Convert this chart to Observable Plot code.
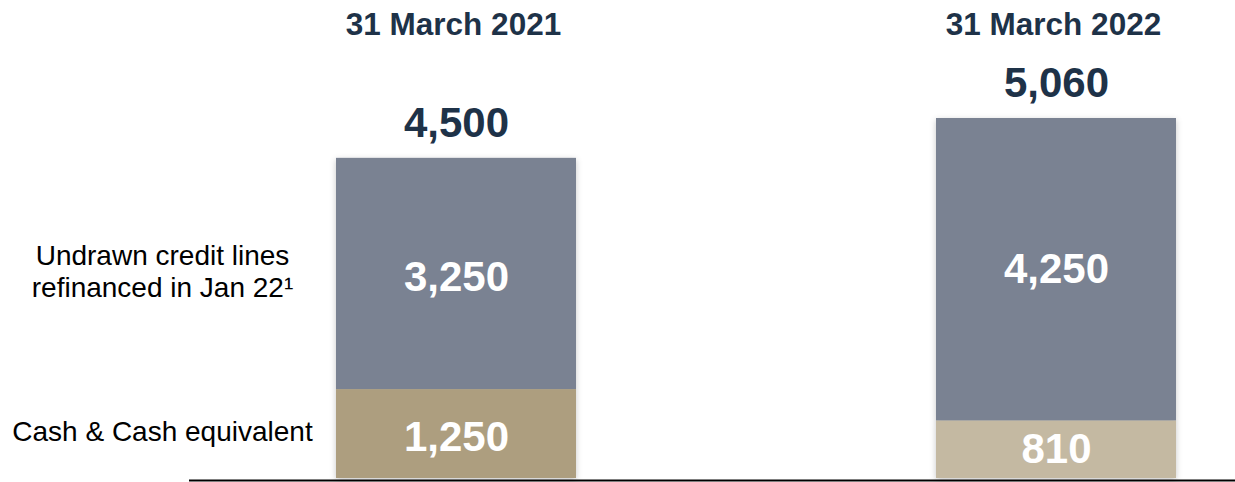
<!DOCTYPE html>
<html>
<head>
<meta charset="utf-8">
<script src="https://cdn.jsdelivr.net/npm/d3@7"></script>
<script src="https://cdn.jsdelivr.net/npm/@observablehq/plot@0.6"></script>
<style>
  html, body { margin: 0; padding: 0; background: #fff; }
  #chart svg { display: block; }
</style>
</head>
<body>
<div id="chart"></div>
<script>
// ---- data ----
const periods = ["31 March 2021", "31 March 2022"];
const series = ["Cash & Cash equivalent", "Undrawn credit lines\nrefinanced in Jan 22\u00b9"];
const cashValues = [1250, 810];
const undrawnValues = [3250, 4250];
const totalValues = [4500, 5060];

// ---- styles (kept apart from data) ----
const segmentColors = {
  "Cash & Cash equivalent|31 March 2021": "#ad9e7f",
  "Cash & Cash equivalent|31 March 2022": "#c4b9a2",
};
const undrawnColor = "#7a8292";
const navy = "#1e3248";
const fontFamily = "'Liberation Sans', Arial, Helvetica, sans-serif";

// build table
const rows = [];
periods.forEach((p, i) => {
  rows.push({period: p, series: series[0], value: cashValues[i], base: 0});
  rows.push({period: p, series: series[1], value: undrawnValues[i], base: cashValues[i]});
});
rows.forEach(r => { r.mid = r.base + r.value / 2; });
const totals = periods.map((p, i) => ({period: p, total: totalValues[i]}));
const fillOf = r => segmentColors[r.series + "|" + r.period] || undrawnColor;

const rows2021 = rows.filter(r => r.period === periods[0]);
const rows2022 = rows.filter(r => r.period === periods[1]);
const fmt = d3.format(",");

const W = 1235, H = 482;
const insideText = (data, dy) => Plot.text(data, {
  x: "period", y: "mid", text: d => fmt(d.value),
  fill: "#fff", fontSize: 42, fontWeight: "bold", lineAnchor: "middle", dy
});

const plot = Plot.plot({
  width: W,
  height: H,
  marginLeft: 189,
  marginRight: 0,
  marginTop: 0,
  marginBottom: 0,
  style: {fontFamily, background: "#fff", overflow: "visible"},
  x: {type: "band", domain: periods, range: [336, 1176], paddingInner: 0.6, paddingOuter: 0, axis: null},
  y: {domain: [0, 5060], range: [478, 118], axis: null},
  color: {type: "identity"},
  marks: [
    Plot.barY(rows, Plot.stackY({x: "period", y: "value", fill: fillOf, order: null})),
    Plot.ruleY([0], {stroke: "#000", strokeWidth: 2, dy: 2}),
    // values inside segments
    insideText(rows2021, 4),
    insideText(rows2022, 0),
    // totals above bars
    Plot.text(totals, {
      x: "period", y: "total", text: d => fmt(d.total),
      fill: navy, fontSize: 42, fontWeight: "bold", lineAnchor: "middle", dy: -35
    }),
    // period headers
    Plot.text(periods, {
      x: d => d, text: d => d, frameAnchor: "top", lineAnchor: "middle", dy: 24, dx: -3,
      fill: navy, fontSize: 31.5, fontWeight: "bold"
    }),
    // side labels at the 2021 segment middles
    Plot.text(rows2021, {
      y: "mid", text: "series", frameAnchor: "left", textAnchor: "middle", dx: -27, dy: -3,
      lineAnchor: "middle", lineHeight: 1.14, fill: "#000", fontSize: 28, fontWeight: "normal"
    })
  ]
});

d3.select(plot).selectAll("g[aria-label='bar']")
  .style("filter", "drop-shadow(0px 2px 3px rgba(0,0,0,0.22))");

document.getElementById("chart").appendChild(plot);
</script>
</body>
</html>
